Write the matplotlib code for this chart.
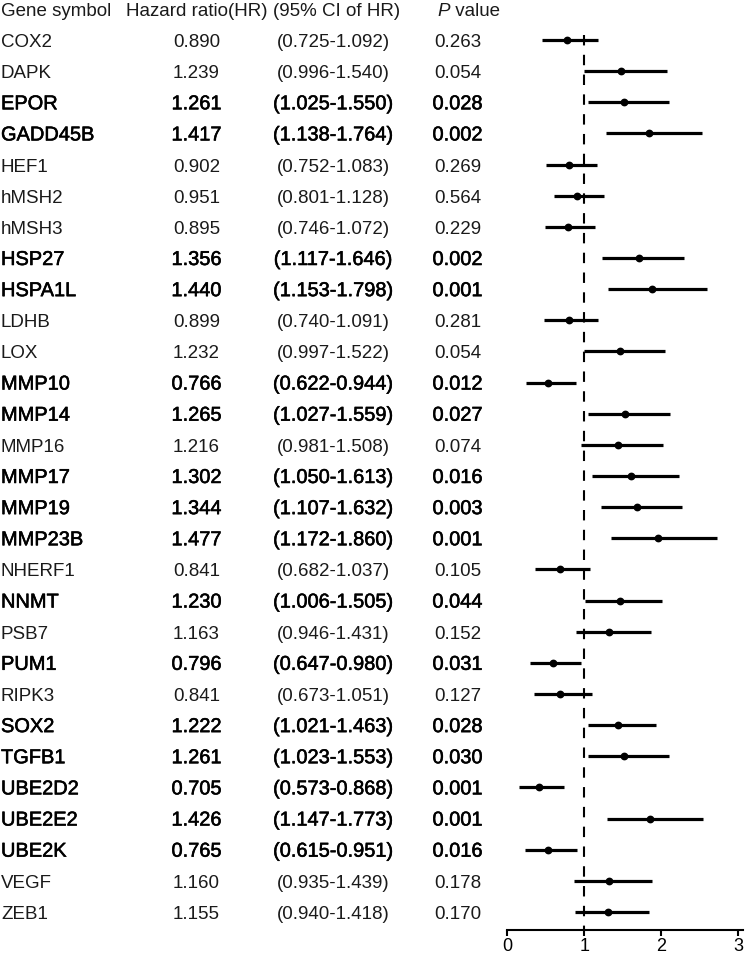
import matplotlib
matplotlib.use("Agg")
import matplotlib.pyplot as plt
import matplotlib.patheffects as pe
from matplotlib.transforms import blended_transform_factory

plt.rcParams['font.family'] = ['Liberation Sans', 'DejaVu Sans']

# ---------------- data ----------------
genes = ["COX2", "DAPK", "EPOR", "GADD45B", "HEF1", "hMSH2", "hMSH3", "HSP27",
         "HSPA1L", "LDHB", "LOX", "MMP10", "MMP14", "MMP16", "MMP17", "MMP19",
         "MMP23B", "NHERF1", "NNMT", "PSB7", "PUM1", "RIPK3", "SOX2", "TGFB1",
         "UBE2D2", "UBE2E2", "UBE2K", "VEGF", "ZEB1"]
hr = [0.890, 1.239, 1.261, 1.417, 0.902, 0.951, 0.895, 1.356,
      1.440, 0.899, 1.232, 0.766, 1.265, 1.216, 1.302, 1.344,
      1.477, 0.841, 1.230, 1.163, 0.796, 0.841, 1.222, 1.261,
      0.705, 1.426, 0.765, 1.160, 1.155]
ci_low = [0.725, 0.996, 1.025, 1.138, 0.752, 0.801, 0.746, 1.117,
          1.153, 0.740, 0.997, 0.622, 1.027, 0.981, 1.050, 1.107,
          1.172, 0.682, 1.006, 0.946, 0.647, 0.673, 1.021, 1.023,
          0.573, 1.147, 0.615, 0.935, 0.940]
ci_high = [1.092, 1.540, 1.550, 1.764, 1.083, 1.128, 1.072, 1.646,
           1.798, 1.091, 1.522, 0.944, 1.559, 1.508, 1.613, 1.632,
           1.860, 1.037, 1.505, 1.431, 0.980, 1.051, 1.463, 1.553,
           0.868, 1.773, 0.951, 1.439, 1.418]
p_values = [0.263, 0.054, 0.028, 0.002, 0.269, 0.564, 0.229, 0.002,
            0.001, 0.281, 0.054, 0.012, 0.027, 0.074, 0.016, 0.003,
            0.001, 0.105, 0.044, 0.152, 0.031, 0.127, 0.028, 0.030,
            0.001, 0.001, 0.016, 0.178, 0.170]
x_ticks = [0, 1, 2, 3]
headers = ["Gene symbol", "Hazard ratio(HR)", "(95% CI of HR)", "P", " value"]

# The original figure draws the forest marks with deviations from 1 doubled
def to_plot(v):
    return 1 + 2 * (v - 1)

# ---------------- figure ----------------
W, H = 747, 955
fig = plt.figure(figsize=(W / 100, H / 100), dpi=100)
ax = fig.add_axes([507.3 / W, 1 - 930 / H, (743 - 507.3) / W, 930 / H])
ax.set_xlim(0, 3.061)
ax.set_ylim(28.58, -1.285)

n = len(genes)
rows = list(range(n))

# reference line
ax.vlines(1, -0.17, 28.58, colors="black", linewidth=1.5,
          linestyles=(0, (5, 4.5)), zorder=1)

# CI lines and points
for i in rows:
    ax.plot([to_plot(ci_low[i]), to_plot(ci_high[i])], [i, i], color="black",
            linewidth=2.3, solid_capstyle="butt", zorder=2)
    ax.plot(to_plot(hr[i]), i, marker="o", markersize=4.6, color="black",
            zorder=3)

for s in ["top", "left", "right"]:
    ax.spines[s].set_visible(False)
ax.spines["bottom"].set_linewidth(1.5)
ax.set_yticks([])
ax.set_xticks(x_ticks)
ax.set_xticklabels([str(t) for t in x_ticks])
ax.tick_params(axis="x", length=4, width=1.5, labelsize=13, pad=1.5,
               colors="black")

# ---------------- table text ----------------
trans = blended_transform_factory(fig.transFigure, ax.transData)
x_gene = 1 / W
x_hr = 196.5 / W
x_ci = 333 / W
x_p = 457.5 / W
off = 0.225
fs_n = 13.5
fs_b = 14.4
txt_col = "#1a1a1a"
bold_fx = [pe.withStroke(linewidth=0.4, foreground="black")]

hy = -1 + off
ax.text(x_gene, hy, headers[0], transform=trans, ha="left", va="baseline",
        fontsize=fs_n, color=txt_col, clip_on=False)
ax.text(x_hr, hy, headers[1], transform=trans, ha="center", va="baseline",
        fontsize=fs_n, color=txt_col, clip_on=False)
ax.text(337 / W, hy, headers[2], transform=trans, ha="center",
        va="baseline", fontsize=fs_n, color=txt_col, clip_on=False)
tP = ax.text(437.5 / W, hy, headers[3], transform=trans, ha="left",
             va="baseline", fontsize=fs_n, style="italic", color=txt_col,
             clip_on=False)
ax.annotate(headers[4], xy=(1, 0), xycoords=tP, ha="left", va="bottom",
            fontsize=fs_n, color=txt_col, annotation_clip=False)

for i in rows:
    sig = p_values[i] < 0.05
    kw = dict(transform=trans, va="baseline", clip_on=False,
              fontsize=fs_b if sig else fs_n,
              color="black" if sig else txt_col)
    if sig:
        kw["path_effects"] = bold_fx
    y = i + off
    ax.text(x_gene, y, genes[i], ha="left", **kw)
    ax.text(x_hr, y, f"{hr[i]:.3f}", ha="center", **kw)
    ax.text(x_ci, y, f"({ci_low[i]:.3f}-{ci_high[i]:.3f})", ha="center", **kw)
    ax.text(x_p, y, f"{p_values[i]:.3f}", ha="center", **kw)

fig.savefig("out.png", dpi=100)
